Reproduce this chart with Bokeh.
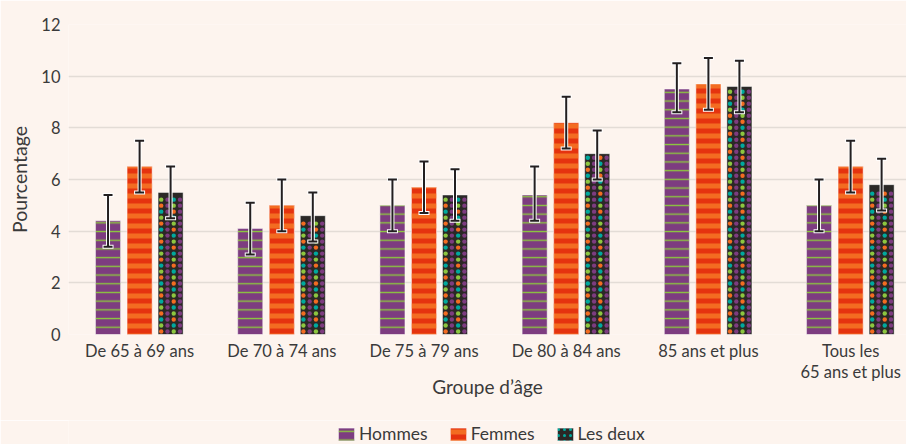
import numpy as np
from bokeh.plotting import figure
from bokeh.layouts import column
from bokeh.models import (ColumnDataSource, Range1d, FixedTicker, Whisker, TeeHead,
                          Legend, LegendItem)
from bokeh.core.properties import value
from bokeh.embed import file_html
from bokeh.resources import INLINE

# ---- data ----
categories = ["De 65 à 69 ans", "De 70 à 74 ans", "De 75 à 79 ans",
              "De 80 à 84 ans", "85 ans et plus", "Tous les\n65 ans et plus"]
series = ["Hommes", "Femmes", "Les deux"]

hommes = [4.4, 4.1, 5.0, 5.4, 9.5, 5.0]
hommes_low = [3.4, 3.1, 4.0, 4.4, 8.6, 4.0]
hommes_high = [5.4, 5.1, 6.0, 6.5, 10.5, 6.0]

femmes = [6.5, 5.0, 5.7, 8.2, 9.7, 6.5]
femmes_low = [5.5, 4.0, 4.7, 7.2, 8.7, 5.5]
femmes_high = [7.5, 6.0, 6.7, 9.2, 10.7, 7.5]

deux = [5.5, 4.6, 5.4, 7.0, 9.6, 5.8]
deux_low = [4.5, 3.6, 4.4, 6.0, 8.6, 4.8]
deux_high = [6.5, 5.5, 6.4, 7.9, 10.6, 6.8]

y_ticks = [0, 2, 4, 6, 8, 10, 12]

# ---- style ----
BG = "#fdf4ee"
TXT = "#3a3a3a"
FONT = "Lato"
PURPLE = "#7d3c80"
GREEN = "#8cc63f"
RED = "#e5330f"
ORANGE = "#f36c21"
DARK = "#2b2826"
TEAL = "#00a99d"

centers = np.arange(len(categories)) + 0.5
offsets = [-0.222, 0.0, 0.218]
bar_w = 0.176

p = figure(width=906, height=420, x_range=Range1d(0, 5.893), y_range=Range1d(0, 12),
           output_backend="svg", toolbar_location=None,
           min_border_left=68, min_border_right=0, min_border_top=24, min_border_bottom=86,
           background_fill_color=BG, border_fill_color=BG, outline_line_color=None)

styles = [
    dict(fill_color=PURPLE, hatch_pattern=value("horizontal_line"), hatch_color=GREEN,
         hatch_scale=8.7, hatch_weight=1.4),
    dict(fill_color=RED, hatch_pattern=value("horizontal_line"), hatch_color=ORANGE,
         hatch_scale=10, hatch_weight=5),
    dict(fill_color=DARK, hatch_pattern=value("dot"), hatch_color=TEAL,
         hatch_scale=6, hatch_weight=1),
]

vals = [hommes, femmes, deux]
lows = [hommes_low, femmes_low, deux_low]
highs = [hommes_high, femmes_high, deux_high]

sources = []
for k in range(3):
    src = ColumnDataSource(dict(x=centers + offsets[k], top=vals[k],
                                lower=lows[k], upper=highs[k]))
    sources.append(src)
    p.vbar(x="x", top="top", bottom=0, width=bar_w, source=src,
           line_color="white", line_alpha=0.45, line_width=1,
           **(styles[k] if k < 2 else dict(fill_color=DARK)))

# multicoloured dot texture of the "Les deux" bars, derived from the bar values
dot_x, dot_y, dot_c = [], [], []
col_offsets = (np.arange(4) - 1.5) * (bar_w / 4)
dy = 0.232
palette = [ORANGE, GREEN, TEAL]
for cx, top in zip(centers + offsets[2], deux):
    for j in range(int(top / dy)):
        for i, off in enumerate(col_offsets):
            dot_x.append(cx + off)
            dot_y.append((j + 0.5) * dy)
            dot_c.append(PURPLE if i % 2 else palette[(j + i // 2) % 3])
p.scatter(x=dot_x, y=dot_y, color=dot_c, marker="circle", size=4.4, line_color=None)

for src in sources:
    halo = Whisker(source=src, base="x", lower="lower", upper="upper", level="overlay",
                   line_color="white", line_width=4,
                   upper_head=TeeHead(size=11, line_color="white", line_width=4),
                   lower_head=TeeHead(size=11, line_color="white", line_width=4))
    wk = Whisker(source=src, base="x", lower="lower", upper="upper", level="overlay",
                 line_color="#231f20", line_width=2,
                 upper_head=TeeHead(size=9, line_color="#231f20", line_width=2),
                 lower_head=TeeHead(size=9, line_color="#231f20", line_width=2))
    p.add_layout(halo)
    p.add_layout(wk)

# axes
p.xaxis.ticker = FixedTicker(ticks=list(centers))
p.xaxis.major_label_overrides = {float(c): lab for c, lab in zip(centers, categories)}
p.yaxis.ticker = FixedTicker(ticks=y_ticks)
for ax in (p.xaxis[0], p.yaxis[0]):
    ax.axis_line_color = None
    ax.major_tick_line_color = None
    ax.minor_tick_line_color = None
    ax.major_tick_out = 0
    ax.major_tick_in = 0
    ax.minor_tick_out = 0
    ax.minor_tick_in = 0
    ax.major_label_text_font = FONT
    ax.major_label_text_color = TXT
    ax.axis_label_text_font = FONT
    ax.axis_label_text_color = TXT
    ax.axis_label_text_font_style = "normal"
p.xaxis.axis_label_text_font_size = "19px"
p.yaxis.axis_label_text_font_size = "19.5px"
p.xaxis.major_label_text_font_size = "16.5px"
p.yaxis.major_label_text_font_size = "16.5px"
p.xaxis.major_label_text_line_height = 1.05
p.xaxis.axis_label = "Groupe d’âge"
p.yaxis.axis_label = "Pourcentage"
p.xaxis.major_label_standoff = 6
p.xaxis.axis_label_standoff = -10
p.yaxis.major_label_standoff = 8
p.yaxis.axis_label_standoff = 7

p.xgrid.grid_line_color = None
p.ygrid.grid_line_color = "#e3dcd6"
p.ygrid.grid_line_width = 1.5

# legend strip (proxies share the bar data but lie far outside the visible ranges)
lg = figure(width=906, height=24, x_range=Range1d(100, 101), y_range=Range1d(100, 101),
            output_backend="svg", toolbar_location=None,
            min_border_left=68, min_border_right=0, min_border_top=0, min_border_bottom=0,
            background_fill_color=BG, border_fill_color=BG, outline_line_color=None,
            x_axis_type=None, y_axis_type=None)
lg.grid.visible = False
proxies = []
for k in range(3):
    proxies.append(lg.vbar(x="x", top="top", bottom=0, width=bar_w, source=sources[k],
                           line_color="white", line_alpha=0.45, line_width=1, **styles[k]))
legend = Legend(items=[LegendItem(label=s, renderers=[r]) for s, r in zip(series, proxies)],
                orientation="horizontal", location=(268, 0),
                label_text_font=FONT, label_text_font_size="17.5px", label_text_color=TXT,
                glyph_width=20, glyph_height=16, label_standoff=3, spacing=20,
                background_fill_alpha=0, border_line_color=None,
                padding=0, margin=0)
lg.add_layout(legend, "center")

open("out.html", "w").write(file_html(column(p, lg, spacing=0), INLINE))
